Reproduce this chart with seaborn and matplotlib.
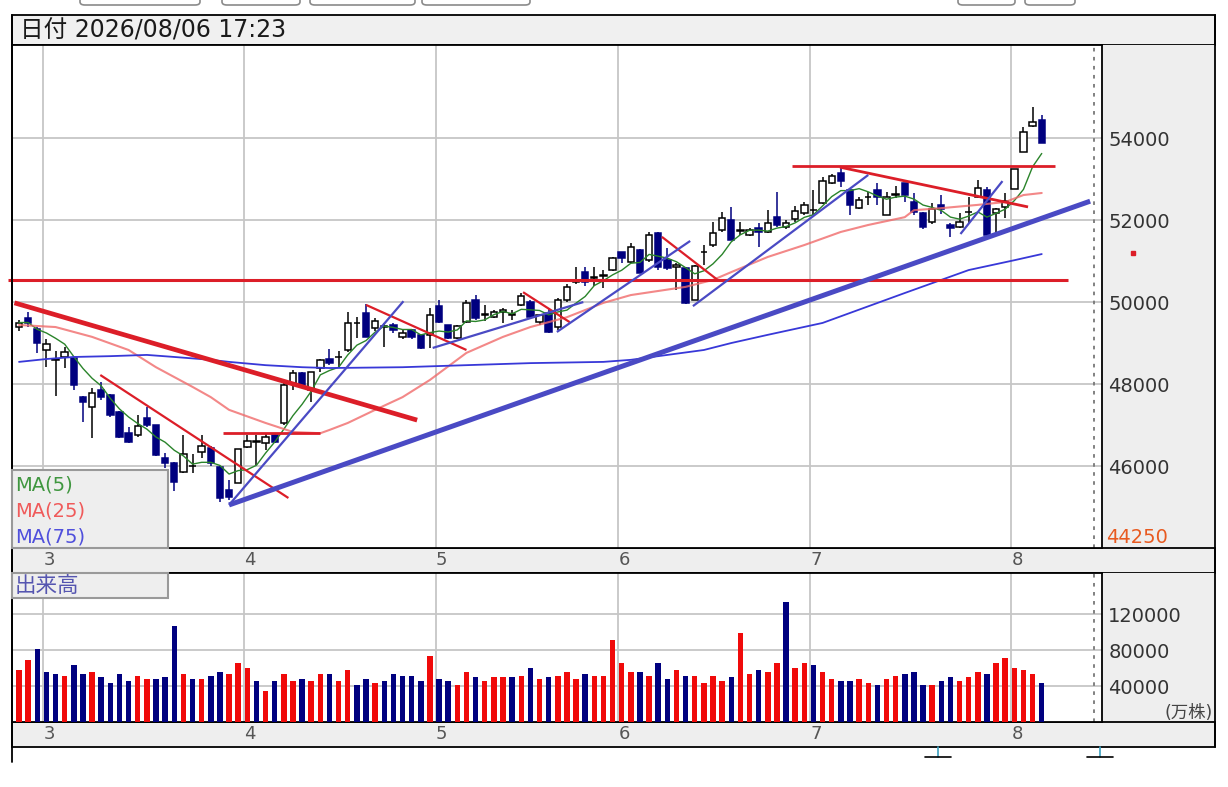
import numpy as np
import pandas as pd
import seaborn as sns
import matplotlib
matplotlib.use('agg')
import matplotlib.pyplot as plt
from matplotlib.patches import Rectangle, FancyBboxPatch
from matplotlib.lines import Line2D
from matplotlib.transforms import blended_transform_factory

# ---- data (index 0 = last days of Feb, 112 = 2026/08/06) ----
opens = [49400, 49600, 49350, 48830, 48600, 48660, 48640, 47680, 47440, 47850,
         47730, 47320, 46800, 46760, 47170, 47000, 46200, 46070, 45850, 46000,
         46340, 46440, 45980, 45420, 45590, 46460, 46600, 46560, 46760, 47050,
         48030, 48270, 47850, 48390, 48610, 48660, 48830, 49490, 49730, 49370,
         49400, 49430, 49150, 49320, 49200, 49200, 49900, 49440, 49120, 49510,
         50050, 49700, 49640, 49760, 49700, 49930, 50000, 49510, 49730, 49390,
         50050, 50500, 50730, 50600, 50650, 50780, 51220, 50980, 51270, 51020,
         51680, 51020, 50850, 50830, 50050, 51220, 51390, 51760, 52000, 51750,
         51630, 51800, 51700, 52070, 51830, 52020, 52170, 52250, 52410, 52900,
         53150, 52730, 52290, 52560, 52730, 52120, 52630, 52900, 52440, 52170,
         51950, 52370, 51880, 51830, 52200, 52560, 52730, 52180, 52320, 52760,
         53660, 54290, 54440]
highs = [49550, 49750, 49400, 49100, 48800, 48900, 48660, 47700, 47900, 48060,
         47750, 47330, 46950, 47240, 47440, 47000, 46320, 46100, 46760, 46300,
         46760, 46480, 46000, 45650, 46420, 46760, 46760, 46800, 46780, 48100,
         48340, 48300, 48300, 48600, 48850, 48800, 49760, 49640, 49950, 49600,
         49480, 49500, 49350, 49350, 49220, 49850, 50050, 49450, 49450, 50050,
         50170, 49930, 49800, 49850, 49800, 50220, 50050, 49700, 49850, 50100,
         50440, 50850, 50850, 50850, 50780, 51100, 51220, 51440, 51300, 51700,
         51700, 51310, 50950, 50850, 50900, 51390, 51950, 52200, 52320, 51950,
         51800, 51930, 52250, 52680, 52000, 52340, 52440, 52730, 53050, 53120,
         53270, 52780, 52560, 52680, 52900, 52680, 52830, 52900, 52660, 52200,
         52420, 52610, 51930, 52170, 52560, 52980, 52800, 52300, 52660, 53240,
         54270, 54760, 54560]
lows = [49300, 49400, 48750, 48420, 47700, 48400, 47850, 47070, 46680, 47600,
        47200, 46680, 46550, 46700, 46950, 46250, 45950, 45400, 45830, 45830,
        46200, 46000, 45120, 45170, 45590, 46440, 46030, 46390, 46550, 47000,
        47850, 47950, 47560, 48300, 48460, 48400, 48780, 49120, 49150, 49300,
        48900, 49250, 49100, 49100, 48850, 48880, 49500, 49100, 49100, 49500,
        49550, 49540, 49600, 49490, 49550, 49900, 49600, 49450, 49240, 49320,
        50000, 50450, 50400, 50400, 50340, 50750, 50950, 50950, 50700, 50980,
        50780, 50780, 50300, 49950, 50050, 50900, 51340, 51700, 51510, 51630,
        51600, 51340, 51680, 51830, 51780, 51950, 52120, 52120, 52400, 52880,
        52800, 52120, 52260, 52370, 52370, 52120, 52540, 52440, 52120, 51780,
        51900, 52150, 51580, 51800, 51930, 52540, 51600, 51700, 52050, 52760,
        53660, 54270, 53880]
closes = [49500, 49500, 49000, 48980, 48600, 48780, 47980, 47560, 47780, 47680,
          47240, 46700, 46580, 46980, 47000, 46270, 46070, 45600, 46290, 46000,
          46490, 46070, 45220, 45240, 46420, 46610, 46600, 46710, 46590, 47980,
          48270, 47980, 48300, 48590, 48510, 48660, 49490, 49490, 49150, 49540,
          49400, 49320, 49240, 49150, 48880, 49680, 49510, 49120, 49410, 49980,
          49610, 49700, 49760, 49800, 49700, 50150, 49640, 49680, 49270, 50050,
          50370, 50500, 50490, 50600, 50650, 51070, 51070, 51340, 50700, 51630,
          50850, 50830, 50900, 49980, 50880, 51220, 51680, 52050, 51510, 51750,
          51760, 51700, 51930, 51880, 51930, 52220, 52370, 52250, 52950, 53070,
          52950, 52370, 52490, 52560, 52560, 52560, 52630, 52610, 52200, 51830,
          52270, 52260, 51800, 51950, 52200, 52780, 51630, 52260, 52460, 53240,
          54150, 54390, 53880]

volumes = [58300, 68900, 81700, 56000, 53650, 51300, 63000, 53650, 56000, 50100,
           43100, 53650, 45500, 51300, 47800, 47800, 50100, 107500, 53650, 47800,
           47800, 51300, 56000, 53650, 65400, 60700, 45500, 34900, 45500, 53650,
           45500, 47800, 45500, 53650, 53650, 45500, 58300, 40800, 47800, 43100,
           45500, 53650, 51300, 51300, 45500, 73500, 47800, 45500, 40800, 56000,
           50100, 45500, 50100, 50100, 50100, 51300, 60700, 47800, 50100, 51300,
           56000, 47800, 53650, 51300, 51300, 91100,
           65400, 56000, 56000, 51300, 65400, 47800, 58300, 51300, 51300, 43100,
           51300, 45500, 50100, 99300, 53650, 58300, 56000, 65400, 133200, 60700,
           65400, 63000, 56000, 47800, 45500, 45500, 47800, 43100, 40800, 47800,
           51300, 53650, 56000, 40800, 40800, 45500, 50100, 45500, 50100, 56000,
           53650, 65400, 71200, 60700, 58300, 53650, 43100]
# r = red (up) volume bar, b = blue (down) volume bar
volume_dir = list("rrbbbrbbrbbbbrrbbbrbrbbrrrbrbrrbrrbrrbbrbbbbbrbbrr"
                  "brrrbrbrbrrrbrrr"
                  "rrbrbbrbrrrrbrrbrrbrrbrrbbrrbrrbbbrbbrrrbrrrrrb")

month_labels = ["3", "4", "5", "6", "7", "8"]
month_first_bar = [3, 25, 46, 66, 87, 109]

ma25_idx = [0, 4, 8, 12, 15, 19, 21, 23, 27, 30, 33, 34, 36, 39, 42, 45, 49, 53,
            56, 60, 64, 67, 73, 76, 78, 82, 86, 90, 93, 97, 98, 101, 105, 108, 110, 112]
ma25_val = [49440, 49390, 49150, 48830, 48410, 47930, 47680, 47370, 47050, 46830,
            46800, 46880, 47050, 47370, 47680, 48100, 48760, 49150, 49390, 49630,
            49980, 50170, 50370, 50540, 50730, 51100, 51390, 51710, 51880, 52070,
            52240, 52290, 52370, 52440, 52610, 52660]
ma75_idx = [0, 3, 6, 10, 14, 17, 21, 23, 27, 31, 34, 42, 49, 56, 64, 67, 71, 75,
            78, 82, 88, 97, 104, 109, 112]
ma75_val = [48540, 48610, 48660, 48680, 48710, 48660, 48590, 48540, 48460, 48410,
            48390, 48410, 48460, 48510, 48540, 48590, 48710, 48830, 49000, 49200,
            49490, 50220, 50780, 51020, 51170]

# hand drawn trend lines: (bar0, price0, bar1, price1)
red_lines = [(-0.5, 49980, 43.6, 47120), (-1.2, 50540, 114.9, 50540),
             (8.9, 48220, 29.5, 45220), (22.3, 46800, 33.0, 46800),
             (38.0, 49930, 49.0, 48830), (55.2, 50240, 60.3, 49510),
             (70.4, 51590, 76.5, 50540), (84.6, 53320, 113.5, 53320),
             (89.9, 53290, 110.5, 52320)]
red_widths = [3.4, 2.2, 1.6, 2.0, 1.6, 1.6, 1.6, 2.0, 2.0]
blue_lines = [(23.0, 45050, 117.3, 52460), (23.0, 45050, 42.1, 50020),
              (45.3, 48880, 61.8, 50000), (58.9, 49270, 73.5, 51490),
              (73.8, 49900, 93.0, 53100), (103.1, 51660, 107.7, 52950)]
blue_widths = [3.6, 1.6, 1.6, 1.6, 1.6, 1.6]

price_ticks = [46000, 48000, 50000, 52000, 54000]
price_low_label = 44250
volume_ticks = [40000, 80000, 120000]
marker_price = 51200

# ---- figure ----
sns.set_theme(style="white")
plt.rcParams['font.family'] = ['DejaVu Sans', 'Noto Sans CJK JP']

W, H = 1228, 787
fig = plt.figure(figsize=(W / 100, H / 100), dpi=100)
fig.patch.set_facecolor('white')

NAVY = '#00007f'
RED = '#f00a0a'
TREND_RED = '#dc1e28'
TREND_BLUE = '#4a4ac4'
GRID = '#c6c6c6'
PANEL = '#eeeeee'


def fbox(x0, y0, x1, y1):
    return [x0 / W, 1 - y1 / H, (x1 - x0) / W, (y1 - y0) / H]


def frect(x0, y0, x1, y1, z=-1, **kw):
    r = Rectangle((x0 / W, 1 - y1 / H), (x1 - x0) / W, (y1 - y0) / H,
                  transform=fig.transFigure, zorder=z, **kw)
    fig.add_artist(r)


def fline(xs, ys, **kw):
    fig.add_artist(Line2D([v / W for v in xs], [1 - v / H for v in ys],
                          transform=fig.transFigure, **kw))


def ftext(x, y, s, **kw):
    fig.text(x / W, 1 - y / H, s, va='center', **kw)


# background panels
for bx in [(80, 200), (222, 300), (310, 415), (422, 530), (958, 1015), (1025, 1075)]:
    fig.add_artist(FancyBboxPatch((bx[0] / W, 1 - 5 / H), (bx[1] - bx[0]) / W, 12 / H,
                                  boxstyle="round,pad=0,rounding_size=0.004",
                                  transform=fig.transFigure, facecolor='white',
                                  edgecolor='#8a8a8a', lw=1.2, zorder=-1))
frect(12, 15, 1215, 45, facecolor='#f0f0f0', edgecolor='black', lw=1.3)
frect(1102, 45, 1215, 548, facecolor=PANEL, edgecolor='none')
frect(12, 548, 1215, 573, facecolor=PANEL, edgecolor='black', lw=1.3)
frect(1102, 573, 1215, 722, facecolor=PANEL, edgecolor='none')
frect(12, 722, 1215, 747, facecolor=PANEL, edgecolor='black', lw=1.3)
fline([12, 12], [15, 762], color='black', lw=1.3)
fline([1215, 1215], [15, 747], color='black', lw=1.3)
for tx in [938, 1100]:
    fline([tx, tx], [747, 757], color='#3aa0c0', lw=1.2)
    fline([tx - 13, tx + 13], [757, 757], color='black', lw=1.2)

ftext(20, 31, "日付 2026/08/06 17:23", fontsize=17, color='#1a1a1a')

ax = fig.add_axes(fbox(12, 45, 1102, 548))
axv = fig.add_axes(fbox(12, 573, 1102, 722))

xlim = (-0.77, 118.6)
grid_x = [m - 0.35 for m in month_first_bar]
for a in (ax, axv):
    a.set_facecolor('white')
    a.set_xlim(*xlim)
    a.set_xticks(grid_x)
    a.tick_params(axis='x', length=0, labelbottom=False)
    a.yaxis.tick_right()
    a.tick_params(axis='y', length=0, pad=4.5, labelsize=14, labelcolor='#333333')
    a.grid(True, color=GRID, lw=1.3)
    a.set_axisbelow(True)
    for s in a.spines.values():
        s.set_color('black')
        s.set_linewidth(1.3)
    a.axvline(117.7, color='#777777', lw=1.3, ls=(0, (2, 3)), zorder=1)
    for lab, m in zip(month_labels, month_first_bar):
        a.text(m + 0.3, -0.024 if a is ax else -0.082, lab,
               transform=blended_transform_factory(a.transData, a.transAxes),
               ha='center', va='center', fontsize=13, color='#555555')

# ---- price panel ----
ax.set_ylim(44000, 56270)
ax.set_yticks(price_ticks)
ax.set_yticklabels([str(v) for v in price_ticks])

x = np.arange(len(closes))
o = np.array(opens)
c = np.array(closes)
up = c > o
down = c < o
face = np.where(up, 'white', np.where(down, NAVY, 'black'))
edge = np.where(down, NAVY, 'black')
body_h = np.maximum(np.abs(c - o), 14)
body_lo = np.where(c == o, o - 7, np.minimum(o, c))
ax.vlines(x, lows, highs, colors=edge, lw=1.1, zorder=2)
ax.bar(x, body_h, bottom=body_lo, width=0.7, color=face, edgecolor=edge,
       linewidth=1.1, zorder=3)

ma5 = pd.Series(closes).rolling(5, min_periods=1).mean()
sns.lineplot(x=x, y=ma5, ax=ax, color='#2a842a', lw=1.0, zorder=4, legend=False)
sns.lineplot(x=ma25_idx, y=ma25_val, ax=ax, color='#f06a6a', lw=1.5, alpha=0.8,
             zorder=4, legend=False)
sns.lineplot(x=ma75_idx, y=ma75_val, ax=ax, color='#3838d8', lw=1.3, zorder=4,
             legend=False)
ax.set_xlabel('')
ax.set_ylabel('')

for (x0, p0, x1, p1), lw in zip(red_lines, red_widths):
    ax.plot([x0, x1], [p0, p1], color=TREND_RED, lw=lw, zorder=5,
            solid_capstyle='butt', clip_on=False)
for (x0, p0, x1, p1), lw in zip(blue_lines, blue_widths):
    ax.plot([x0, x1], [p0, p1], color=TREND_BLUE, lw=lw, zorder=5,
            solid_capstyle='butt', clip_on=False)

side = blended_transform_factory(ax.transAxes, ax.transData)
ax.text(1.004, price_low_label, str(price_low_label), transform=side,
        ha='left', va='center', fontsize=14, color='#e85a20')
ax.plot([1.0285], [marker_price], 's', transform=side, ms=2.5, color=TREND_RED,
        clip_on=False)

# ---- volume panel ----
axv.set_ylim(0, 166000)
axv.set_yticks(volume_ticks)
axv.set_yticklabels([str(v) for v in volume_ticks])
vcol = [RED if d == 'r' else NAVY for d in volume_dir]
axv.bar(x, volumes, width=0.6, color=vcol, linewidth=0, zorder=3)
ftext(1213, 713, "(万株)", fontsize=12.5, color='#444444', ha='right')

# legend boxes
frect(12, 470, 168, 548, z=5, facecolor=PANEL, edgecolor='#999999', lw=1.5)
ftext(15, 485, "MA(5)", fontsize=14, color='#3f963f', zorder=6)
ftext(15, 511, "MA(25)", fontsize=14, color='#f05a5a', zorder=6)
ftext(15, 537, "MA(75)", fontsize=14, color='#5050dc', zorder=6)
frect(12, 573, 168, 598, z=5, facecolor=PANEL, edgecolor='#999999', lw=1.5)
ftext(15, 586, "出来高", fontsize=15.5, color='#5555b0', zorder=6)

fig.savefig('out.png', dpi=100)
plt.close(fig)
